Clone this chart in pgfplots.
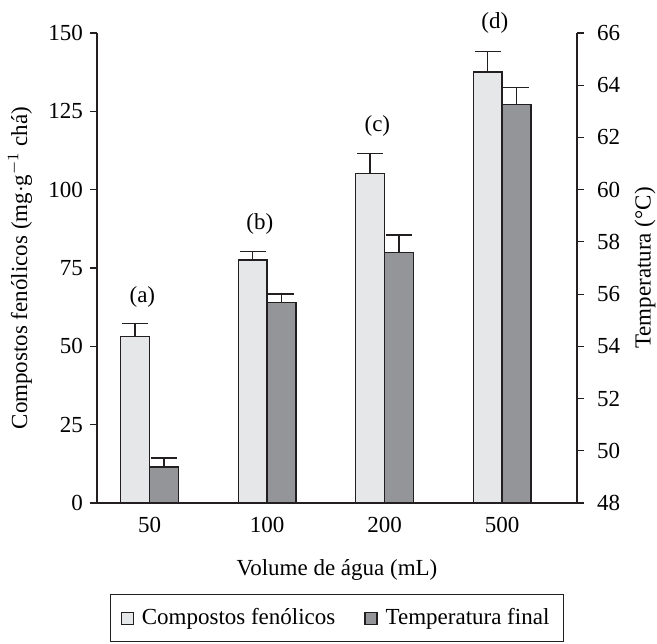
\documentclass[border=0pt]{standalone}
\usepackage{pgfplots}
\pgfplotsset{compat=1.18}
\usepackage{fontspec}
\setmainfont{Liberation Serif}

\definecolor{lightbar}{HTML}{E6E7E8}
\definecolor{darkbar}{HTML}{939598}
\definecolor{edge}{HTML}{231F20}

\pgfplotsset{
  base/.style={
    width=240pt, height=235pt, scale only axis,
    xmin=-0.447, xmax=3.638,
    font=\fontsize{11.5}{13}\selectfont,
    /pgf/number format/assume math mode=true,
    tick align=outside,
    major tick length=3.5pt,
    tick style={edge, line width=0.6pt},
    axis line style={edge, line width=0.6pt},
    xtick=\empty,
    ybar, bar width=14.4pt,
    clip mode=individual,
  },
  errstyle/.style={
    error bars/.cd, y dir=plus, y explicit,
    error bar style={edge, line width=0.7pt},
    error mark options={edge, line width=0.7pt, mark size=6.5pt, rotate=90},
  },
}

\begin{document}
\begin{tikzpicture}
\begin{axis}[
  base, name=ax,
  axis y line*=left, axis x line*=bottom,
  ymin=0, ymax=150, ytick={0,25,...,150},
  xtick={0,1,2,3}, xticklabels={50,100,200,500},
  x tick style={draw=none},
  ylabel={Compostos fenólicos (mg$\cdot$g$^{-1}$ chá)},
  ylabel style={at={(axis description cs:0,0.5)}, anchor=center, yshift=38.5pt},
  xlabel={Volume de água (mL)},
  xlabel style={at={(axis description cs:0.5,0)}, anchor=center, yshift=-33.5pt},
  legend style={at={(axis description cs:0.5,0)}, anchor=north, yshift=-45.5pt,
    draw=edge, line width=0.6pt, inner xsep=5pt, inner ysep=5pt,
    legend columns=2, nodes={inner sep=2pt},
    /tikz/every odd column/.append style={column sep=2pt},
    /tikz/every even column/.append style={column sep=12.5pt}},
  legend image code/.code={\draw[#1, line width=0.6pt] (0pt,-3pt) rectangle (6pt,3pt);},
]
\addplot[fill=lightbar, draw=edge, line width=0.7pt, bar shift=-7.2pt, errstyle]
  coordinates {(0,53.1) +- (0,4.1) (1,77.6) +- (0,2.7) (2,105.2) +- (0,6.4) (3,137.5) +- (0,6.5)};
\addlegendentry{Compostos fenólicos}
\addlegendimage{fill=darkbar, draw=edge}
\addlegendentry{Temperatura final}
\node[yshift=13.5pt] at (axis cs:-0.061,57.2) {(a)};
\node[yshift=13.5pt] at (axis cs:0.939,80.3) {(b)};
\node[yshift=13.5pt] at (axis cs:1.939,111.6) {(c)};
\node[yshift=14.5pt] at (axis cs:2.939,144.0) {(d)};
\end{axis}

\begin{axis}[
  base,
  axis y line*=right, axis x line=none,
  ymin=48, ymax=66, ytick={48,50,...,66},
  yticklabel style={xshift=3pt},
  ylabel={Temperatura (°C)},
  ylabel style={at={(axis description cs:1,0.5)}, anchor=center, yshift=-34pt},
]
\addplot[fill=darkbar, draw=edge, line width=0.7pt, bar shift=7.2pt, errstyle]
  coordinates {(0,49.38) +- (0,0.34) (1,55.67) +- (0,0.33) (2,57.60) +- (0,0.67) (3,63.26) +- (0,0.65)};
\end{axis}

\pgfresetboundingbox
\path ([xshift=-48.5pt,yshift=-70pt]ax.south west) rectangle ([xshift=40pt,yshift=16.5pt]ax.north east);
\end{tikzpicture}
\end{document}
